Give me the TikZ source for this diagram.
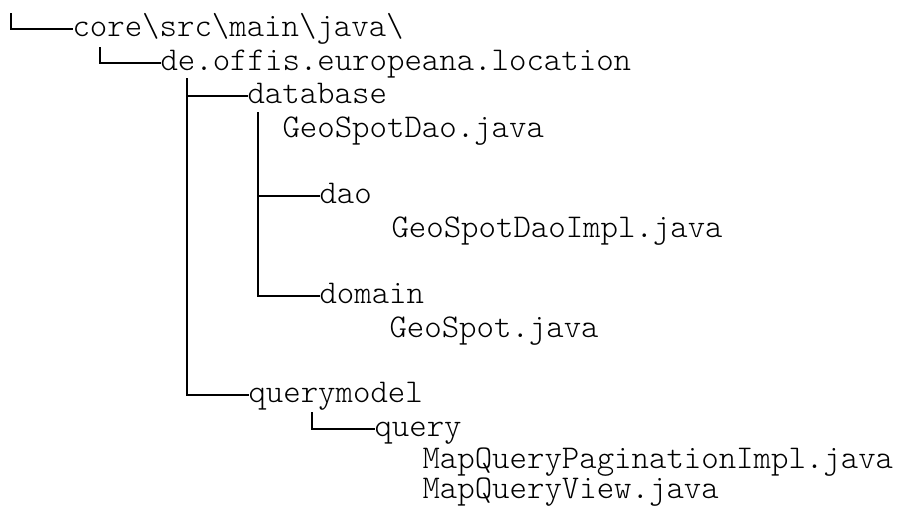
\documentclass[tikz,border=0pt]{standalone}
\usepackage{fontspec}
\newfontfamily\treefont{Latin Modern Mono Light}
\begin{document}
\begin{tikzpicture}[x=1pt,y=-1pt,
  entry/.style={anchor=base west,inner sep=0pt,outer sep=0pt,
    font=\treefont\fontsize{33.2}{40}\selectfont},
  branch/.style={line width=2pt,line cap=butt,black}]
\useasboundingbox (0,0) rectangle (904,507);

% directory entries
\node[entry] (core)       at (72.5,36)  {core\textbackslash src\textbackslash main\textbackslash java\textbackslash};
\node[entry] (loc)        at (160.5,70) {de.offis.europeana.location};
\node[entry] (database)   at (247.5,103) {database};
\node[entry] (gsdao)      at (282.5,137) {GeoSpotDao.java};
\node[entry] (dao)        at (319.5,203) {dao};
\node[entry] (gsdaoimpl)  at (391.5,237) {GeoSpotDaoImpl.java};
\node[entry] (domain)     at (319.5,303) {domain};
\node[entry] (geospot)    at (389.5,337) {GeoSpot.java};
\node[entry] (querymodel) at (248.5,402) {querymodel};
\node[entry] (query)      at (374.5,436) {query};
\node[entry] (mqp)        at (422.5,468) {MapQueryPaginationImpl.java};
\node[entry] (mqv)        at (422.5,498) {MapQueryView.java};

% points where branch lines meet the entries
\foreach \n in {core,loc,database,dao,domain,querymodel,query}
  \coordinate (\n-in) at ([yshift=7.5pt]\n.base west);

% tops of the vertical guides
\coordinate (t1) at (11,13);
\coordinate (t2) at (100,47);
\coordinate (t3) at (187,78);
\coordinate (t4) at (258,112);
\coordinate (t5) at (312,412);

% tree branches
\draw[branch] (t1) |- (core-in);
\draw[branch] (t2) |- (loc-in);
\draw[branch] (t3) |- (querymodel-in);
\draw[branch] (t3 |- database-in) -- (database-in);
\draw[branch] (t4) |- (domain-in);
\draw[branch] (t4 |- dao-in) -- (dao-in);
\draw[branch] (t5) |- (query-in);
\end{tikzpicture}
\end{document}
